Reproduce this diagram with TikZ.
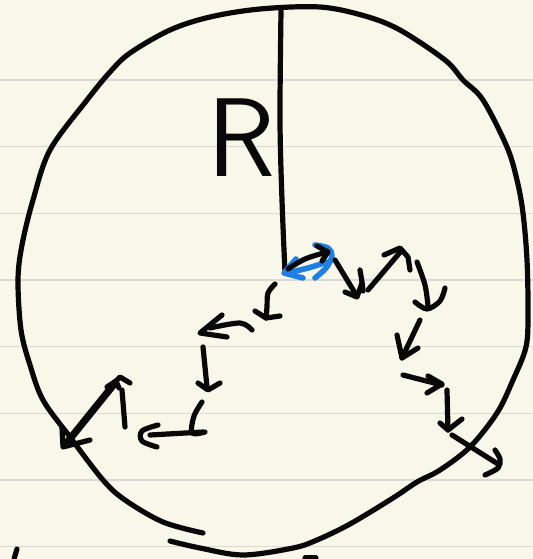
\documentclass[tikz,border=0pt]{standalone}
\usepackage{tikz}
\usetikzlibrary{calc}
\definecolor{paper}{HTML}{F8F7E9}
\definecolor{ruleline}{HTML}{D9D9D6}
\definecolor{pen}{HTML}{080808}
\definecolor{bluepen}{HTML}{1E80E6}
\tikzset{
  ruling/.style={ruleline, line width=0.8pt},
  ink/.style={pen, line width=2.6pt, line cap=round, line join=round},
  thickink/.style={pen, line width=3.6pt, line cap=round, line join=round},
  blueink/.style={bluepen, line width=2.8pt, line cap=round, line join=round},
  stroke/.style={smooth, tension=0.55},
  handlabel/.style={font=\sffamily\fontsize{56}{58}\selectfont, inner sep=0pt, pen}
}

\begin{document}
\begin{tikzpicture}[x=0.5pt,y=-0.5pt]
  \fill[paper] (0,0) rectangle (533,559);
  \useasboundingbox (0,0) rectangle (533,559);

  \foreach \k in {0,...,7}
    \draw[ruling] (0,{80+66.67*\k}) -- (533,{80+66.67*\k});

  \coordinate (C) at (285,272);
  \coordinate (T) at (281,11);

  \draw[ink] plot[stroke] coordinates {
    (203,533) (163,522) (125,500) (103,480) (70,437) (43,400) (30,365)
    (21,330) (18,280) (22,245) (33,200) (50,150) (87,100) (110,72)
    (130,53) (170,30) (210,17) (260,9) (320,7) (365,16) (400,30)
    (445,60) (463,80) (483,100) (507,147) (517,180) (523,213) (527,260)
    (528,313) (526,347) (513,380) (497,413) (470,447) (440,470)
    (417,482) (393,498) (350,524) (317,540) (293,548) (243,555)
    (200,548) (170,541)};

  \draw[ink] plot[stroke] coordinates {(T) (280,120) (282,200) (C)};
  \node[handlabel] (R) at (241,138) {R};

  \draw[blueink] plot[stroke] coordinates {(287,273) (308,268) (327,262)};
  \draw[blueink] (296,259) -- (284,273) -- (303,278);
  \draw[blueink] plot[stroke] coordinates {(315,245) (328,248) (332,256) (326,268) (315,278)};
  \draw[ink] plot[stroke] coordinates {(288,269) (305,259) (327,252)};
  \draw[ink] (317,246) -- (328,252) -- (322,261);

  \draw[ink] (335,260) -- (355,293);
  \draw[ink] (345,292) -- (357,297) -- (362,283);
  \draw[ink] plot[stroke] coordinates {(360,270) (362,282) (363,291)};

  \draw[ink] (368,290) -- (402,250);
  \draw[ink] (384,255) -- (400,248) -- (408,257) -- (410,270);

  \draw[ink] plot[stroke] coordinates {(417,262) (425,285) (428,306)};
  \draw[ink] plot[stroke] coordinates {(415,302) (427,309) (440,301) (445,288)};

  \draw[ink] (420,320) -- (402,358);
  \draw[ink] (397,335) -- (402,358) -- (418,348);

  \draw[ink] (403,375) -- (442,385);
  \draw[ink] (428,376) -- (442,384) -- (427,393);

  \draw[ink] (447,390) -- (448,430);
  \draw[ink] (440,423) -- (448,430) -- (462,419);

  \draw[ink] (452,435) -- (498,464);
  \draw[ink] plot[stroke] coordinates {(495,450) (500,459) (498,468) (485,475)};

  \draw[ink] plot[stroke] coordinates {(275,284) (268,293) (267,307) (266,318)};
  \draw[ink] (255,311) -- (266,318) -- (280,316);

  \draw[ink] plot[stroke] coordinates {(252,330) (240,323) (210,328)};
  \draw[ink] (222,315) -- (200,333) -- (227,337);

  \draw[ink] (203,347) -- (207,387);
  \draw[ink] (198,383) -- (208,390) -- (220,383);

  \draw[ink] plot[stroke] coordinates {(202,402) (194,416) (192,433) (205,432)};
  \draw[ink] (203,432) -- (150,435);
  \draw[ink] plot[stroke] coordinates {(158,425) (142,431) (142,441) (157,447)};

  \draw[ink] (125,427) -- (122,390);
  \draw[ink] (112,385) -- (120,377) -- (130,383);

  \draw[thickink] (115,383) -- (65,445);
  \draw[ink] (107,387) -- (116,381) -- (119,388);
  \draw[ink] (62,428) -- (63,447) -- (90,440);

  \draw[ink] (17,549) -- (14,559);
  \draw[ink] (305,558) -- (316,558);
\end{tikzpicture}
\end{document}
